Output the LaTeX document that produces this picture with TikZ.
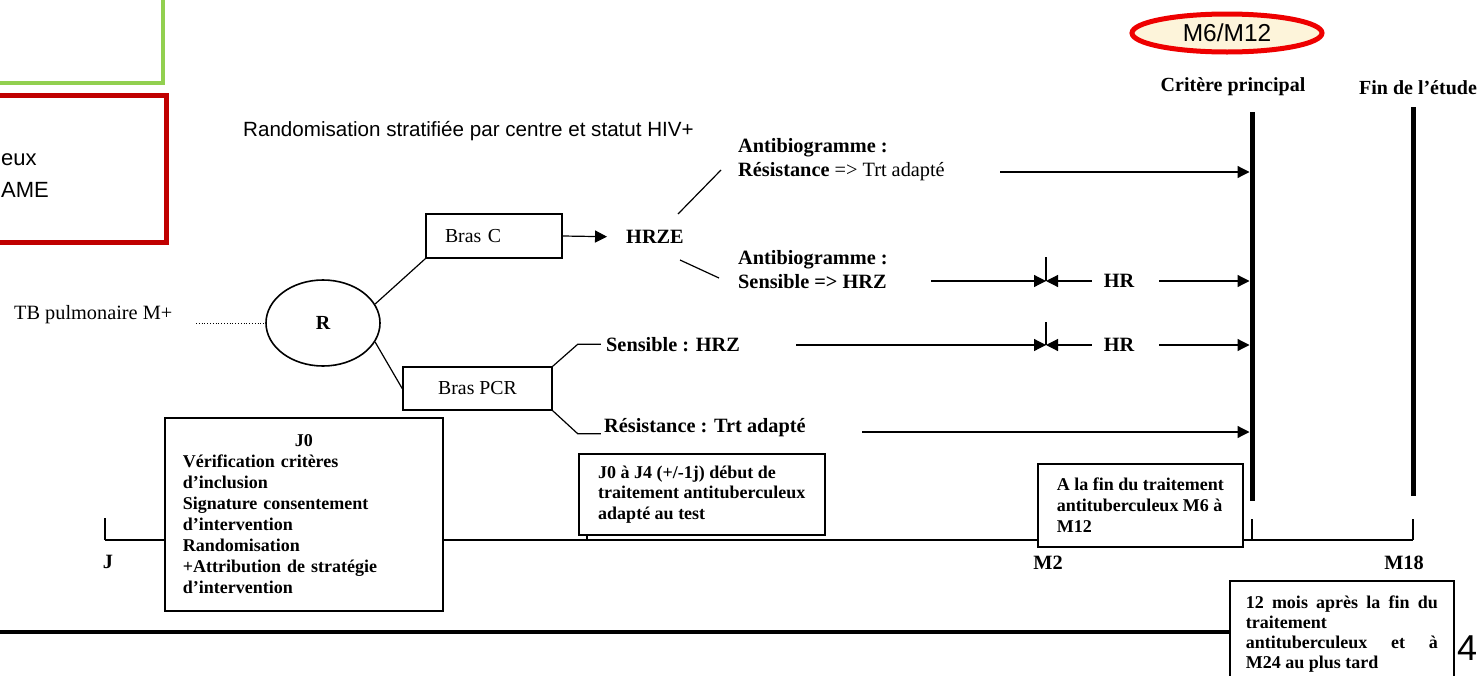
\documentclass[tikz,border=0pt]{standalone}
\usepackage{fontspec}
\setmainfont{Liberation Serif}
\newfontfamily\arialfont{Liberation Sans}
\usetikzlibrary{shapes.geometric,arrows.meta}
\definecolor{boxgreen}{RGB}{146,208,80}
\definecolor{boxred}{RGB}{192,0,0}
\definecolor{ovalred}{RGB}{238,0,0}
\definecolor{ovalfill}{RGB}{253,244,218}

\begin{document}
\begin{tikzpicture}[x=1pt, y=-1pt,
    lbl/.style={inner sep=0pt, font=\fontsize{20.3}{24}\selectfont\bfseries},
    txt/.style={inner sep=0pt, font=\fontsize{20.3}{24}\selectfont},
    boxnode/.style={draw, line width=1.6pt, fill=white, align=left, inner ysep=0pt, font=\fontsize{18}{21}\selectfont\bfseries},
    arm/.style={draw, line width=1.6pt, inner ysep=0pt, font=\fontsize{19.8}{22}\selectfont},
    arr/.style={line width=1.2pt, -{Triangle[length=12pt,width=12pt]}},
    bar/.style={line width=5pt},
    thin/.style={line width=1.2pt}]
    \useasboundingbox (0,0) rectangle (1481,675);
    \clip (0,0) rectangle (1481,675);

    % slide frames (cut off on the left)
    \draw[boxgreen, line width=4pt] (-10,-10) rectangle (163,83);
    \draw[boxred, line width=5pt] (-10,95) rectangle (166,242);
    \node[inner sep=0pt, anchor=base west, font=\fontsize{22}{26}\selectfont\arialfont] (eux) at (1,165) {eux};
    \node[inner sep=0pt, anchor=base west, font=\fontsize{22}{26}\selectfont\arialfont] (ame) at (1,197) {AME};
    \node[inner sep=0pt, anchor=base west, font=\fontsize{20.6}{25}\selectfont\arialfont] (rando) at (243,136) {Randomisation stratifiée par centre et statut HIV+};

    % randomisation
    \node[txt, anchor=base west] (tb) at (14,319) {TB pulmonaire M+};
    \node[draw, ellipse, line width=1.6pt, minimum width=114pt, minimum height=86pt, inner sep=0pt, font=\fontsize{20}{24}\selectfont\bfseries] (R) at (323,323) {R};
    \coordinate (tbend) at (196,323);
    \draw[dotted, line width=0.8pt] (tbend) -- (R.west);

    \node[arm, minimum height=44pt, text width=98pt, inner xsep=19pt, align=left] (brasC) at (494,236) {Bras C};
    \node[arm, minimum height=43pt, minimum width=149pt] (brasPCR) at (477.5,388.5) {Bras PCR};
    \draw[thin] (R.20) -- (brasC.south west);
    \draw[thin] (R.-20) -- (brasPCR.west);

    % bras C
    \node[lbl] (hrze) at (655,237) {HRZE};
    \draw[arr, shorten >=19pt] (brasC.east) -- (hrze.west);
    \node[txt, anchor=west, align=left] (antiR) at (738,160) {\textbf{Antibiogramme :}\\\textbf{Résistance} => Trt adapté};
    \node[lbl, anchor=west, align=left] (antiS) at (738,270) {Antibiogramme :\\Sensible => HRZ};
    \coordinate (hU1) at (678,214);
    \coordinate (hU2) at (721,170);
    \coordinate (hD1) at (680,260);
    \coordinate (hD2) at (719,278);
    \draw[thin] (hU1) -- (hU2);
    \draw[thin] (hD1) -- (hD2);

    % bras PCR
    \node[lbl, anchor=west] (sens) at (606,345) {Sensible : HRZ};
    \node[lbl, anchor=base west] (resi) at (604,432) {Résistance : Trt adapté};
    \draw[thin] (brasPCR.north east) -- ++(25,-22) -- ++(23,0);
    \draw[thin] (brasPCR.south east) -- ++(25,23) -- ++(23,0);

    % primary endpoint and end of study
    \node[draw=ovalred, fill=ovalfill, line width=5pt, ellipse, minimum width=190pt, minimum height=38pt, inner sep=0pt, font=\fontsize{24.5}{28}\selectfont\arialfont] (m6) at (1227,33) {M6/M12};
    \node[lbl, anchor=base, font=\fontsize{20}{24}\selectfont\bfseries] (crit) at (1233,91) {Critère principal};
    \node[lbl, anchor=base, font=\fontsize{20}{24}\selectfont\bfseries] (fin) at (1418,94) {Fin de l’étude};
    \coordinate (critT) at (1252,112);
    \coordinate (critB) at (1252,501);
    \coordinate (finT) at (1413,107);
    \coordinate (finB) at (1413,496);
    \draw[bar] (critT) -- (critB);
    \draw[bar] (finT) -- (finB);

    % arrows to the endpoint
    \coordinate (r1) at (1000,172);
    \draw[arr, shorten >=2.5pt] (r1) -- (r1 -| critT);

    \coordinate (r2) at (931,281);
    \coordinate (m2a) at (1046,281);
    \node[lbl] (hr1) at (1119,281) {HR};
    \draw[arr] (r2) -- (m2a);
    \draw[thin] (m2a) -- ++(0,-24);
    \draw[arr] ([xshift=-12pt]hr1.west) -- (m2a);
    \draw[arr, shorten >=2.5pt] ([xshift=25pt]hr1.east) -- (hr1 -| critT);

    \coordinate (r3) at (796,345);
    \coordinate (m2b) at (1046,345);
    \node[lbl] (hr2) at (1119,345) {HR};
    \draw[arr] (r3) -- (m2b);
    \draw[thin] (m2b) -- ++(0,-23);
    \draw[arr] ([xshift=-12pt]hr2.west) -- (m2b);
    \draw[arr, shorten >=2.5pt] ([xshift=25pt]hr2.east) -- (hr2 -| critT);

    \coordinate (r4) at (862,432);
    \draw[arr, shorten >=2.5pt] (r4) -- (r4 -| critT);

    % time line
    \coordinate (tJ) at (105,540);
    \coordinate (tEnd) at (1413,540);
    \draw[thin] (tJ) -- (tEnd);
    \draw[thin] (tJ) -- ++(0,-22);
    \draw[thin] (tEnd) -- ++(0,-21);
    \draw[thin] (tJ -| critT) -- ++(0,-21);
    \node[lbl] (lJ) at (108,562) {J};
    \node[lbl] (lM2) at (1048,563) {M2};
    \node[lbl] (lM18) at (1404,563) {M18};

    % boxes on the time line
    \node[boxnode, anchor=north west, text width=242pt, inner xsep=18pt, minimum height=193pt] (j0) at (164,417)
        {\makebox[242pt]{J0}\\Vérification critères\\d’inclusion\\Signature consentement\\d’intervention\\Randomisation\\+Attribution de stratégie\\d’intervention};
    \node[boxnode, anchor=north west, minimum width=246pt, minimum height=81pt, font=\fontsize{18}{20.5}\selectfont\bfseries] (j04) at (578,453)
        {J0 à J4 (+/-1j) début de\\traitement antituberculeux\\adapté au test};
    \draw[thin] ([xshift=9pt]j04.south west) -- ([xshift=9pt]j04.south west |- tJ);
    \node[boxnode, anchor=north west, minimum width=205pt, minimum height=83pt] (afin) at (1037,463)
        {A la fin du traitement\\antituberculeux M6 à\\M12};
    \node[boxnode, anchor=north west, text width=192pt, inner xsep=16pt, minimum height=106pt, align=justify, font=\fontsize{18}{20}\selectfont\bfseries] (mois) at (1229,580)
        {12 mois après la fin du\linebreak traitement\\antituberculeux et à\linebreak M24 au plus tard};

    % slide footer
    \coordinate (sepL) at (-5,632);
    \draw[line width=4.5pt] (sepL) -- (sepL -| mois.west);
    \node[inner sep=0pt, font=\fontsize{36}{40}\selectfont\arialfont] (pg) at (1467,648) {4};
\end{tikzpicture}
\end{document}
